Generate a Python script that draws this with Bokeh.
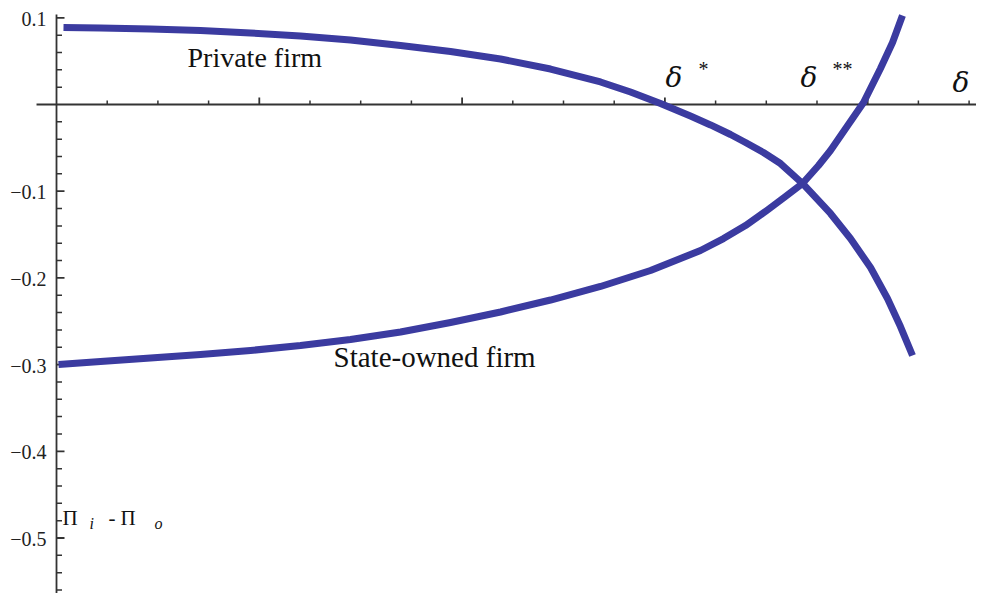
from bokeh.plotting import figure
from bokeh.models import Range1d
from bokeh.core.properties import value
from bokeh.embed import file_html
from bokeh.resources import INLINE

# ---- data ----
private_x = [0.0069, 0.0434, 0.0927, 0.1420, 0.1913, 0.2406, 0.2899, 0.3393, 0.3886, 0.4379,
             0.4872, 0.5365, 0.5661, 0.5957, 0.6252, 0.6450, 0.6647, 0.6795, 0.6972, 0.7140,
             0.7357, 0.7633, 0.7830, 0.8028, 0.8195, 0.8323, 0.8442]
private_y = [0.0888, 0.0882, 0.0871, 0.0854, 0.0825, 0.0790, 0.0744, 0.0681, 0.0611, 0.0525,
             0.0409, 0.0260, 0.0144, 0.0012, -0.0133, -0.0236, -0.0346, -0.0438, -0.0554, -0.0681,
             -0.0911, -0.1257, -0.1546, -0.1880, -0.2238, -0.2561, -0.2895]

state_x = [0.0020, 0.0434, 0.0927, 0.1420, 0.1913, 0.2406, 0.2899, 0.3393, 0.3886, 0.4379,
           0.4872, 0.5365, 0.5858, 0.6351, 0.6578, 0.6795, 0.6992, 0.7189, 0.7357, 0.7515,
           0.7633, 0.7830, 0.7959, 0.8126, 0.8245, 0.8343]
state_y = [-0.2999, -0.2964, -0.2924, -0.2884, -0.2837, -0.2780, -0.2710, -0.2624, -0.2514, -0.2393,
           -0.2255, -0.2099, -0.1915, -0.1684, -0.1546, -0.1396, -0.1234, -0.1061, -0.0911, -0.0704,
           -0.0531, -0.0196, 0.0023, 0.0415, 0.0715, 0.1027]

y_major_ticks = [0.1, -0.1, -0.2, -0.3, -0.4, -0.5]
y_tick_labels = ["0.1", "\u22120.1", "\u22120.2", "\u22120.3", "\u22120.4", "\u22120.5"]
y_minor_ticks = [0.08, 0.06, 0.04, 0.02, -0.02, -0.04, -0.06, -0.08, -0.12, -0.14, -0.16, -0.18,
                 -0.22, -0.24, -0.26, -0.28, -0.32, -0.34, -0.36, -0.38, -0.42, -0.44, -0.46,
                 -0.48, -0.52, -0.54, -0.56]
x_major_ticks = [0.2, 0.4, 0.6, 0.8]
x_minor_ticks = [0.05, 0.1, 0.15, 0.25, 0.3, 0.35, 0.45, 0.5, 0.55, 0.65, 0.7, 0.75, 0.85, 0.9]

delta_label_x = [0.6006, 0.7337, 0.8836]
delta_label_y = [0.0311, 0.0311, 0.0254]
delta_texts = ["\u03b4", "\u03b4", "\u03b4"]
star_texts = ["*", "**"]

# ---- figure ----
W, H = 976, 593
X0, X1 = -0.05523, 0.90730
Y0, Y1 = -0.56401, 0.11995
PX_X = W / (X1 - X0)
PX_Y = H / (Y1 - Y0)

p = figure(width=W, height=H, x_range=Range1d(X0, X1), y_range=Range1d(Y0, Y1),
           output_backend="svg", toolbar_location=None,
           x_axis_location=None, y_axis_location=None,
           min_border=0, min_border_left=0, min_border_right=0,
           min_border_top=0, min_border_bottom=0)
p.grid.visible = False
p.outline_line_color = None
p.background_fill_color = "white"
p.border_fill_color = "white"

axis_color = "#333333"
FONT = value("Liberation Serif")

# axes lines (plot range)
p.segment(x0=[-0.0197, 0.0], y0=[0.0, 0.1038], x1=[X1, 0.0], y1=[0.0, Y0],
          line_color=axis_color, line_width=1.8)

# y ticks (pointing right)
p.segment(x0=[0.0] * len(y_major_ticks), y0=y_major_ticks,
          x1=[8 / PX_X] * len(y_major_ticks), y1=y_major_ticks,
          line_color=axis_color, line_width=1.8)
p.segment(x0=[0.0] * len(y_minor_ticks), y0=y_minor_ticks,
          x1=[5.5 / PX_X] * len(y_minor_ticks), y1=y_minor_ticks,
          line_color=axis_color, line_width=1.5)

# x ticks (pointing up)
p.segment(x0=x_major_ticks, y0=[0.0] * len(x_major_ticks),
          x1=x_major_ticks, y1=[7 / PX_Y] * len(x_major_ticks),
          line_color=axis_color, line_width=1.8)
p.segment(x0=x_minor_ticks, y0=[0.0] * len(x_minor_ticks),
          x1=x_minor_ticks, y1=[4 / PX_Y] * len(x_minor_ticks),
          line_color=axis_color, line_width=1.5)

# y tick labels
p.text(x=[0.0] * len(y_major_ticks), y=y_major_ticks, text=y_tick_labels,
       x_offset=-10, y_offset=1, text_align="right", text_baseline="middle",
       text_font=FONT, text_font_size="20px", text_color="#222222")

# curves
curve_color = "#3b3ba0"
p.line(private_x, private_y, line_color=curve_color, line_width=7, line_join="round")
p.line(state_x, state_y, line_color=curve_color, line_width=7, line_join="round")

# curve labels
p.text(x=[0.1292], y=[0.0542], text=["Private firm"], text_align="left",
       text_baseline="middle", text_font=FONT, text_font_size="28px", text_color="#111111")
p.text(x=[0.2732], y=[-0.2918], text=["State-owned firm"], text_align="left",
       text_baseline="middle", text_font=FONT, text_font_size="29px", text_color="#111111")

# delta labels
p.text(x=delta_label_x, y=delta_label_y, text=delta_texts,
       text_align="left", text_baseline="middle",
       text_font=value("DejaVu Serif"), text_font_style="italic", text_font_size="28px",
       text_color="#111111")
p.text(x=delta_label_x[:2], y=delta_label_y[:2], text=star_texts,
       x_offset=[33, 32], y_offset=[-9, -9], text_align="left", text_baseline="middle",
       text_font=FONT, text_font_size="20px", text_color="#111111")

# y-axis label  Pi_i - Pi_o
lab_y = -0.4764
p.text(x=[0.0, 0.0, 0.0], y=[lab_y] * 3, text=["\u03a0", "-", "\u03a0"],
       x_offset=[6, 52, 64], text_align="left", text_baseline="middle",
       text_font=FONT, text_font_size="21px", text_color="#111111")
p.text(x=[0.0, 0.0], y=[lab_y] * 2, text=["i", "o"],
       x_offset=[33, 98], y_offset=[6, 6], text_align="left", text_baseline="middle",
       text_font=FONT, text_font_style="italic", text_font_size="16px", text_color="#111111")

open("out.html", "w").write(file_html(p, INLINE))
